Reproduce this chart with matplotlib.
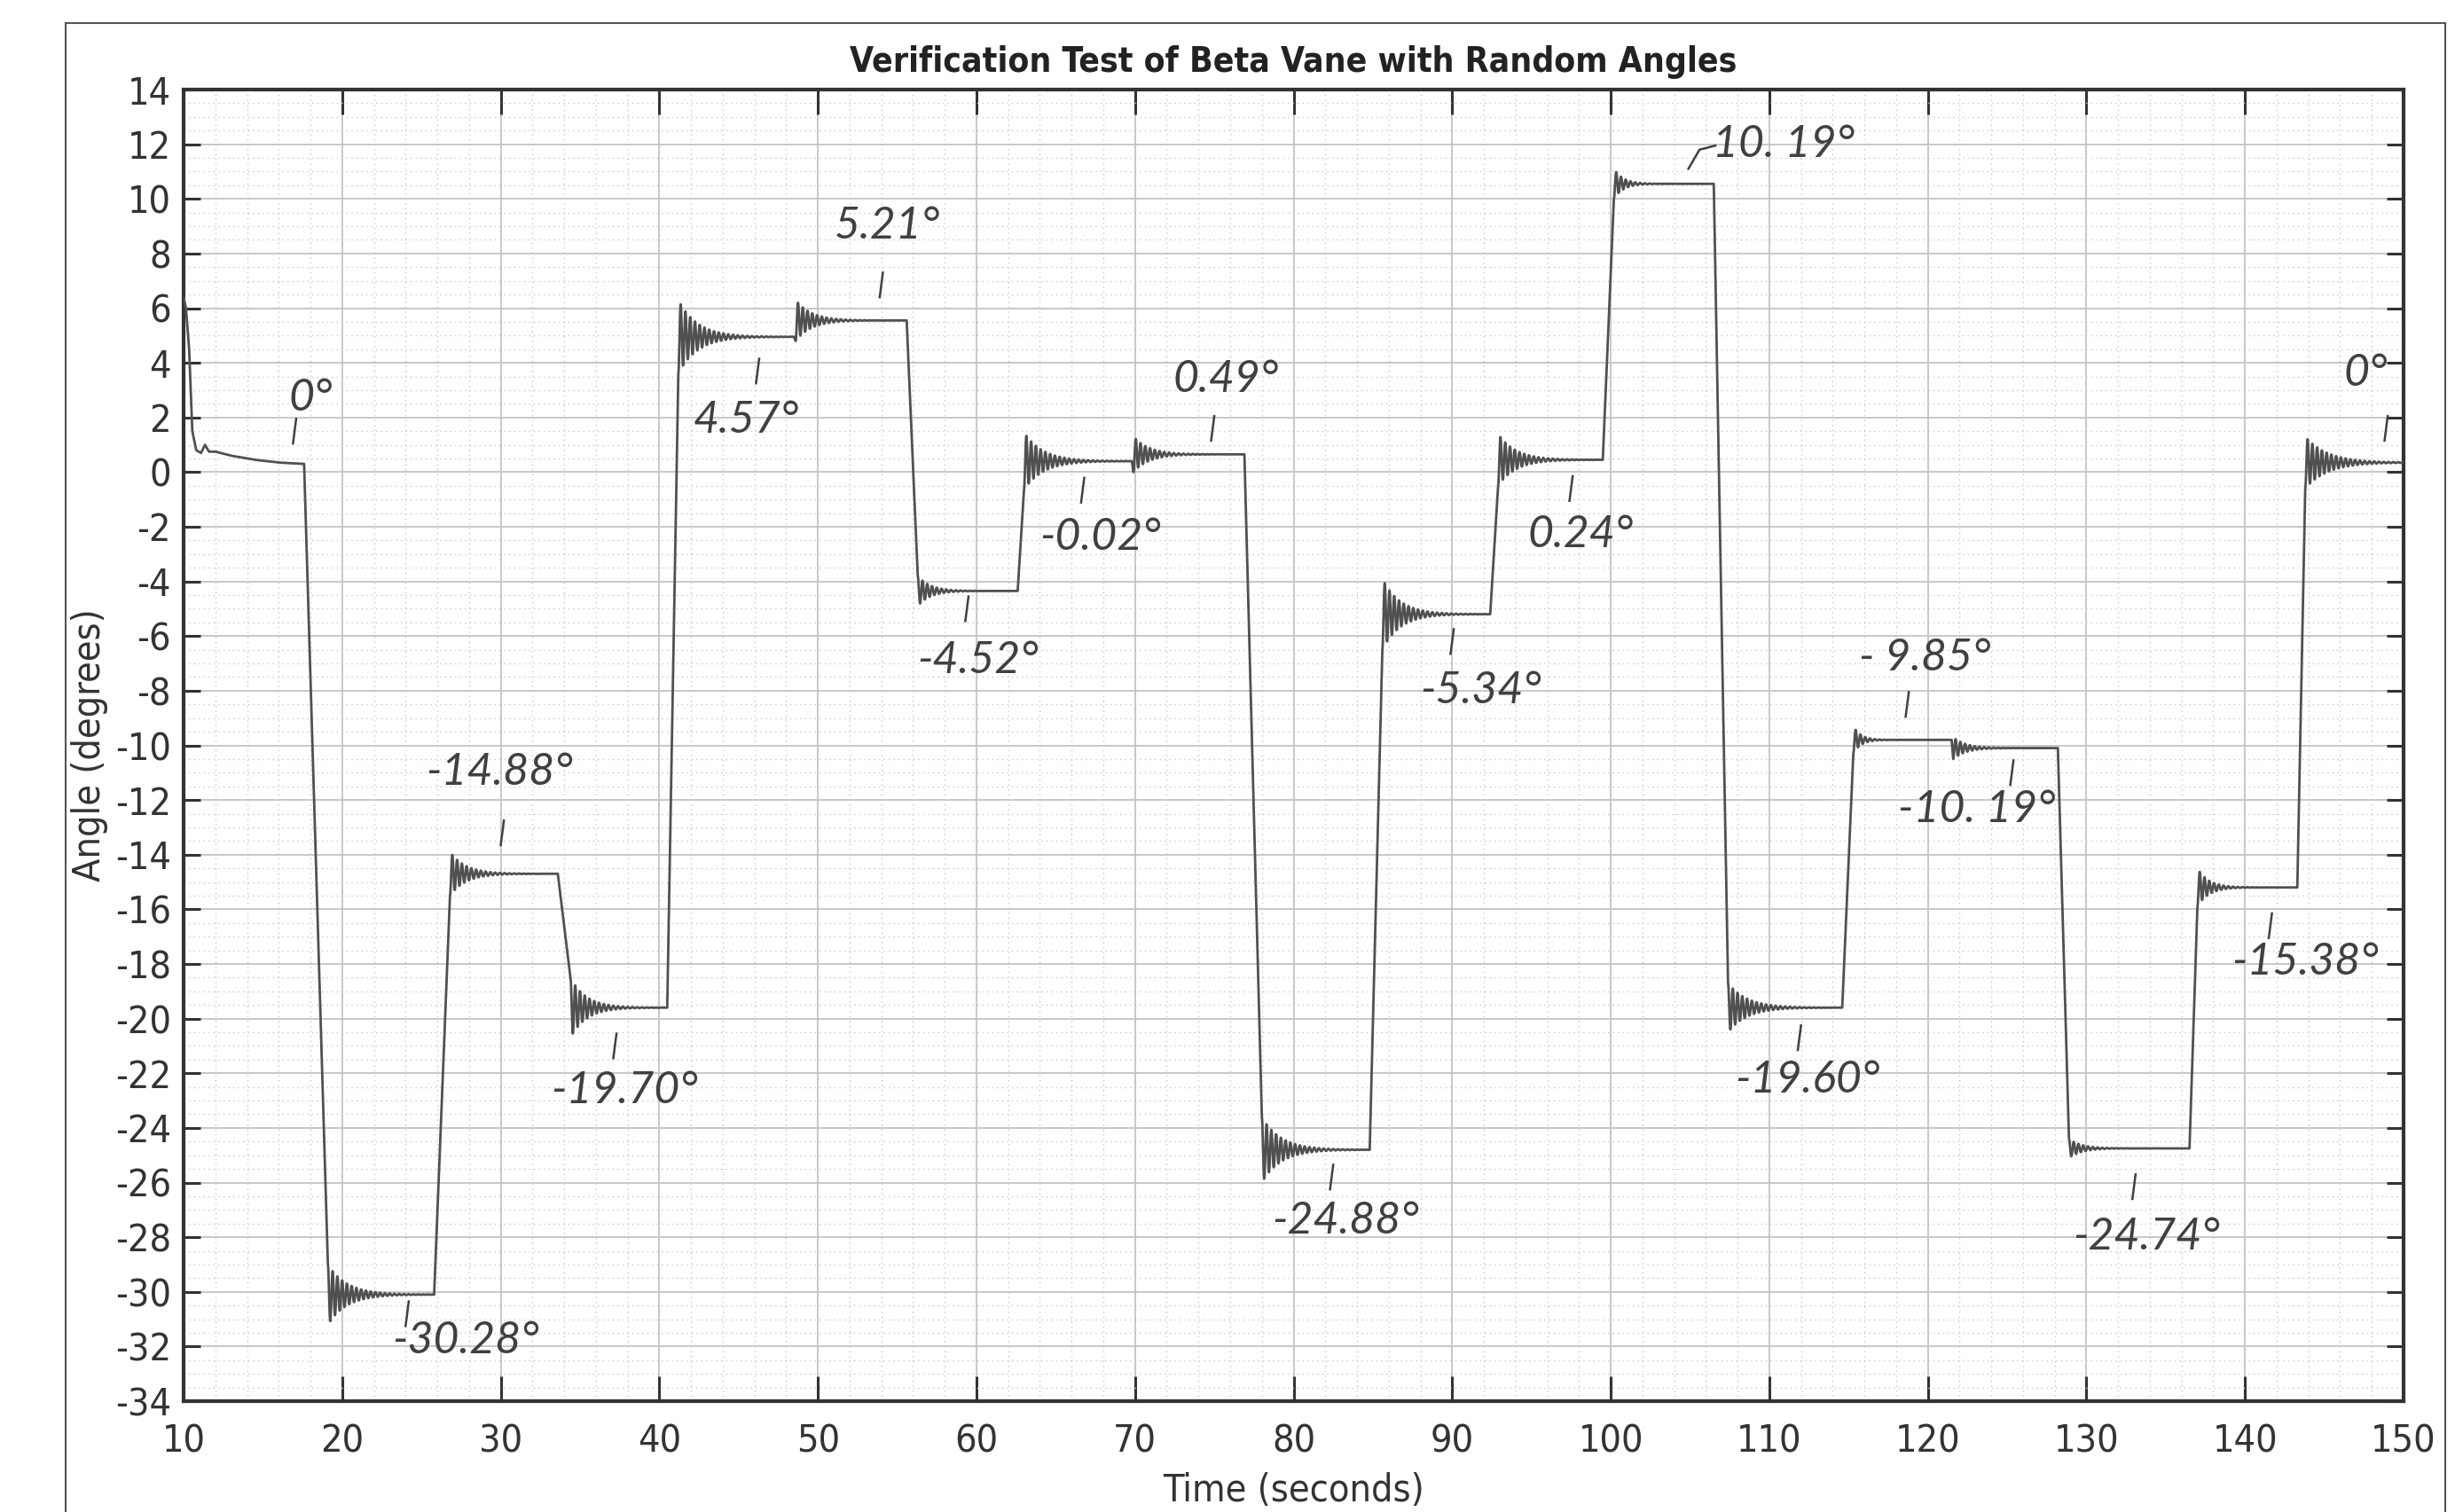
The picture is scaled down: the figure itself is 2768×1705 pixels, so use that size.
import numpy as np
import matplotlib
matplotlib.use("Agg")
import matplotlib.pyplot as plt
from matplotlib import font_manager
from matplotlib.font_manager import FontProperties
from matplotlib.lines import Line2D
from matplotlib.ticker import MultipleLocator

plt.rcParams["axes.unicode_minus"] = False

# start-up drift before the first commanded angle
INIT_T = [10.0, 10.15, 10.35, 10.55, 10.8, 11.1, 11.35, 11.6, 12.0, 13.0, 14.5, 16.0, 17.5]
INIT_V = [6.4, 6.0, 4.5, 1.5, 0.8, 0.7, 1.0, 0.75, 0.75, 0.6, 0.45, 0.35, 0.3]

# commanded steps
STEP_START = [17.6, 25.8, 33.6, 40.5, 48.5, 55.6, 62.6, 69.8, 76.9, 84.8,
              92.4, 99.5, 106.5, 114.6, 121.5, 128.2, 136.5, 143.3]
STEP_END = [19.1, 26.8, 34.4, 41.2, 48.6, 56.3, 63.0, 69.9, 78.0, 85.6,
            92.9, 100.2, 107.4, 115.3, 121.6, 128.9, 137.0, 143.8]
STEP_LEVEL = [-30.1, -14.7, -19.6, 4.95, 5.55, -4.35, 0.4, 0.65, -24.8, -5.2,
              0.45, 10.55, -19.6, -9.8, -10.1, -24.75, -15.2, 0.35]
STEP_PEAK = [-31.2, -13.9, -20.7, 6.3, 6.3, -4.9, 1.45, 1.3, -26.0, -3.9,
             1.4, 11.1, -20.5, -9.3, -9.7, -25.1, -14.5, 1.3]
RING_TIME = [3.0, 2.5, 2.5, 3.0, 2.5, 2.0, 3.0, 2.5, 3.0, 2.8,
             2.8, 1.5, 3.0, 1.2, 2.0, 2.0, 1.8, 3.5]
RING_PERIOD = 0.3

# handwritten notes on the printout
NOTE_TEXT = ["0°", "-14.88°", "-30.28°", "-19.70°", "4.57°", "5.21°", "-4.52°",
             "-0.02°", "0.49°", "-24.88°", "-5.34°", "0.24°", "10. 19°",
             "-19.60°", "- 9.85°", "-10. 19°", "-24.74°", "-15.38°", "0°"]
NOTE_X = [18.0, 29.9, 27.8, 37.8, 45.5, 54.4, 60.1, 67.8, 75.7, 83.3,
          91.8, 98.1, 110.9, 112.4, 119.8, 123.1, 133.8, 143.8, 147.6]
NOTE_Y = [2.7, -11.0, -31.8, -22.65, 1.9, 9.0, -6.9, -2.4, 3.4, -27.4,
          -8.0, -2.3, 12.0, -22.25, -6.8, -12.35, -28.0, -17.95, 3.6]
MARK_X = [17.0, 30.1, 24.1, 37.2, 46.2, 54.0, 59.4, 66.7, 74.9, 82.4,
          90.0, 97.5, None, 111.9, 118.7, 125.3, 133.0, 141.6, 148.9]
MARK_Y = [1.5, -13.2, -30.8, -21.0, 3.7, 6.85, -5.0, -0.66, 1.6, -25.8,
          -6.2, -0.6, None, -20.7, -8.5, -11.0, -26.15, -16.6, 1.6]
LEADER_X = [104.9, 105.6, 106.6]
LEADER_Y = [11.1, 11.8, 11.95]


def pick_narrow():
    """look for a narrow sans font, else plain Liberation Sans"""
    reg, bold = None, None
    for f in font_manager.fontManager.ttflist:
        nm = f.name
        narrow = ("Narrow" in nm or "Condensed" in nm or f.stretch in ("condensed", "semi-condensed"))
        if not narrow or "Mono" in nm or "Serif" in nm or f.style != "normal":
            continue
        w = f.weight if isinstance(f.weight, int) else 400
        if w >= 600 and bold is None:
            bold = f.fname
        if 350 <= w < 600 and reg is None:
            reg = f.fname
    if reg and bold:
        return FontProperties(fname=reg), FontProperties(fname=bold), True
    return FontProperties(family="Liberation Sans"), FontProperties(family="Liberation Sans", weight="bold"), False


FP_REG, FP_BOLD, IS_NARROW = pick_narrow()
TICK_SIZE = 31 if IS_NARROW else 30
TITLE_SIZE = 28 if IS_NARROW else 28.5
LABEL_SIZE = 31 if IS_NARROW else 29

names = {f.name for f in font_manager.fontManager.ttflist}
HAND = "Lato" if "Lato" in names else "DejaVu Sans"

# build the trace
t = np.arange(10.0, 150.0 + 1e-9, 0.01)
v = np.interp(t, INIT_T, INIT_V)
for i in range(len(STEP_START)):
    t0, t1 = STEP_START[i], STEP_END[i]
    lvl, pk = STEP_LEVEL[i], STEP_PEAK[i]
    t_next = STEP_START[i + 1] if i + 1 < len(STEP_START) else 150.1
    prev = v[np.searchsorted(t, t0) - 1]
    amp = pk - lvl
    start = lvl - amp
    ramp = (t >= t0) & (t < t1)
    v[ramp] = prev + (start - prev) * (t[ramp] - t0) / (t1 - t0)
    ring = (t >= t1) & (t < t_next)
    dt = t[ring] - t1
    tau = RING_TIME[i] / 2.5
    v[ring] = lvl - amp * np.exp(-dt / tau) * np.cos(2 * np.pi * dt / RING_PERIOD)

W, H = 2768, 1705
fig = plt.figure(figsize=(W / 100, H / 100), dpi=100)
L, R, T, B = 207, 2710, 101, 1580
ax = fig.add_axes([L / W, 1 - B / H, (R - L) / W, (B - T) / H])

ax.plot(t, v, color="#505050", lw=2.0, zorder=3)

ax.set_xlim(10, 150)
ax.set_ylim(-34, 14)
ax.xaxis.set_major_locator(MultipleLocator(10))
ax.xaxis.set_minor_locator(MultipleLocator(2))
ax.yaxis.set_major_locator(MultipleLocator(2))
ax.yaxis.set_minor_locator(MultipleLocator(0.5))
ax.grid(which="major", color="#c4c4c4", lw=1.3, ls="-")
ax.grid(which="minor", color="#c8c8c8", lw=1.0, ls=(0, (1, 3)))
ax.set_axisbelow(True)

ax.tick_params(which="both", direction="in", top=True, right=True, colors="#333333")
ax.tick_params(axis="x", which="major", length=20, width=2.2, pad=18)
ax.tick_params(axis="y", which="major", length=14, width=2.2, pad=10)
ax.tick_params(which="minor", length=0)
for lab in ax.get_xticklabels() + ax.get_yticklabels():
    lab.set_fontproperties(FP_REG)
    lab.set_fontsize(TICK_SIZE)
for sp in ax.spines.values():
    sp.set_linewidth(3)
    sp.set_color("#333333")

fig.text((L + R) / 2 / W, 1 - 70 / H, "Verification Test of Beta Vane with Random Angles",
         ha="center", va="center", fontproperties=FP_BOLD, fontsize=TITLE_SIZE, color="#222222")
fig.text((L + R) / 2 / W, 1 - 1681 / H, "Time (seconds)", ha="center", va="center",
         fontproperties=FP_REG, fontsize=LABEL_SIZE, color="#333333")
fig.text(101 / W, 1 - 840 / H, "Angle (degrees)", ha="center", va="center", rotation=90,
         fontproperties=FP_REG, fontsize=LABEL_SIZE, color="#333333")

# handwritten notes
for i, txt in enumerate(NOTE_TEXT):
    ax.text(NOTE_X[i], NOTE_Y[i], txt, ha="center", va="center", fontsize=36,
            family=HAND, style="italic", fontweight="normal", color="#404040", zorder=4)
    if MARK_X[i] is not None:
        ax.plot([MARK_X[i] - 0.1, MARK_X[i] + 0.1], [MARK_Y[i] - 0.45, MARK_Y[i] + 0.45],
                color="#404040", lw=1.8, zorder=4)
ax.plot(LEADER_X, LEADER_Y, color="#404040", lw=1.8, zorder=4)

# border of the scanned page
fig.add_artist(Line2D([74 / W, 74 / W], [0, 1 - 26 / H], color="#555555", lw=1.5))
fig.add_artist(Line2D([74 / W, 2757 / W], [1 - 26 / H, 1 - 26 / H], color="#555555", lw=1.5))
fig.add_artist(Line2D([2757 / W, 2757 / W], [0, 1 - 26 / H], color="#555555", lw=1.5))

fig.savefig("out.png", dpi=100, facecolor="white")
